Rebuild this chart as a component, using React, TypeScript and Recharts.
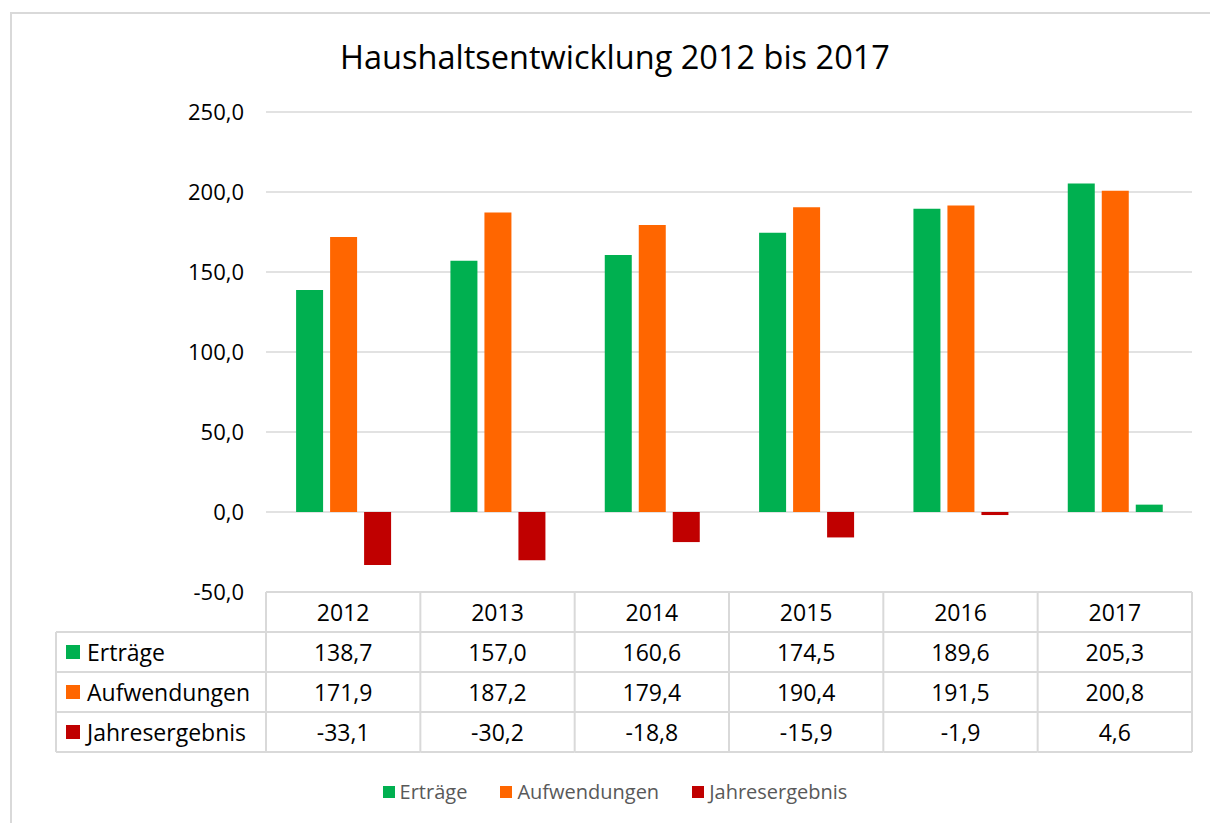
import React from 'react';
import { BarChart, Bar, XAxis, YAxis, CartesianGrid, Cell } from 'recharts';

/* ─── Data ─────────────────────────────────────────────────────────────────── */
const years = ['2012', '2013', '2014', '2015', '2016', '2017'];
const ertraege = [138.7, 157.0, 160.6, 174.5, 189.6, 205.3];
const aufwendungen = [171.9, 187.2, 179.4, 190.4, 191.5, 200.8];
const jahresergebnis = [-33.1, -30.2, -18.8, -15.9, -1.9, 4.6];
const yTicks = [-50, 0, 50, 100, 150, 200, 250];

const GREEN = '#00b050';
const ORANGE = '#ff6600';
const RED = '#c00000';
const LINE = '#d9d9d9';
const FONT = '"Open Sans", "Noto Sans", sans-serif';

const seriesInfo = [
    { key: 'ertraege', name: 'Erträge', color: GREEN, values: ertraege },
    { key: 'aufwendungen', name: 'Aufwendungen', color: ORANGE, values: aufwendungen },
    { key: 'jahresergebnis', name: 'Jahresergebnis', color: RED, values: jahresergebnis },
];

const data = years.map((year, i) => ({
    year,
    ertraege: ertraege[i],
    aufwendungen: aufwendungen[i],
    jahresergebnis: jahresergebnis[i],
}));

const fmt = (v: number) => v.toFixed(1).replace('.', ',');

/* ─── Layout ───────────────────────────────────────────────────────────────── */
const W = 1210;
const H = 823;
const PLOT_LEFT = 266;
const PLOT_RIGHT = 1192;
const PLOT_TOP = 112;
const PLOT_BOTTOM = 592;
const Y_AXIS_W = 60;
const X_AXIS_H = 180;
const BAND = (PLOT_RIGHT - PLOT_LEFT) / years.length;
const ROW_H = 40;
const LABEL_LEFT = 56;

/* ─── Data table drawn as the x-axis ticks ─────────────────────────────────── */
function TableTick(props: any) {
    const { x, y, payload, index } = props;
    const half = BAND / 2;
    const left = x - half;
    const right = x + half;
    const bottom = y + ROW_H * 4;
    const textStyle = { fontFamily: FONT, fontSize: 23, fill: '#000' };
    return (
        <g>
            {/* column borders */}
            {index === 0 && <line x1={left} y1={y} x2={left} y2={bottom} stroke={LINE} strokeWidth={2} />}
            <line x1={right} y1={y} x2={right} y2={bottom} stroke={LINE} strokeWidth={2} />
            {[0, 1, 2, 3, 4].map((r) => (
                <line key={r} x1={left} y1={y + r * ROW_H} x2={right} y2={y + r * ROW_H} stroke={LINE} strokeWidth={2} />
            ))}
            <text x={x} y={y + ROW_H / 2} textAnchor="middle" dominantBaseline="central" style={textStyle}>
                {payload.value}
            </text>
            {seriesInfo.map((s, r) => (
                <text
                    key={s.key}
                    x={x}
                    y={y + ROW_H * (r + 1) + ROW_H / 2}
                    textAnchor="middle"
                    dominantBaseline="central"
                    style={textStyle}
                >
                    {fmt(s.values[index])}
                </text>
            ))}
            {/* row labels on the left */}
            {index === 0 && (
                <g>
                    <line x1={LABEL_LEFT} y1={y + ROW_H} x2={LABEL_LEFT} y2={bottom} stroke={LINE} strokeWidth={2} />
                    {[1, 2, 3, 4].map((r) => (
                        <line key={r} x1={LABEL_LEFT} y1={y + r * ROW_H} x2={left} y2={y + r * ROW_H} stroke={LINE} strokeWidth={2} />
                    ))}
                    {seriesInfo.map((s, r) => (
                        <g key={s.key}>
                            <rect x={LABEL_LEFT + 10} y={y + ROW_H * (r + 1) + 13} width={14} height={14} fill={s.color} />
                            <text
                                x={LABEL_LEFT + 31}
                                y={y + ROW_H * (r + 1) + ROW_H / 2}
                                dominantBaseline="central"
                                style={textStyle}
                            >
                                {s.name}
                            </text>
                        </g>
                    ))}
                </g>
            )}
        </g>
    );
}

export default function App() {
    return (
        <div style={{ position: 'absolute', left: 0, top: 0, width: W, height: H, background: '#fff', overflow: 'hidden' }}>
            {/* outer chart frame */}
            <div style={{ position: 'absolute', left: 10, top: 12, width: W, height: H, border: `2px solid ${LINE}`, boxSizing: 'border-box' }} />
            <div
                style={{
                    position: 'absolute',
                    left: 0,
                    top: 34,
                    width: 1230,
                    textAlign: 'center',
                    fontFamily: FONT,
                    fontSize: 32.5,
                    color: '#000',
                }}
            >
                Haushaltsentwicklung 2012 bis 2017
            </div>
            <div style={{ position: 'absolute', left: 0, top: 0 }}>
                <BarChart
                    width={W}
                    height={H}
                    data={data}
                    margin={{
                        top: PLOT_TOP,
                        right: W - PLOT_RIGHT,
                        left: PLOT_LEFT - Y_AXIS_W,
                        bottom: H - PLOT_BOTTOM - X_AXIS_H,
                    }}
                    barCategoryGap="19.5%"
                    barGap={7}
                >
                    <CartesianGrid vertical={false} stroke={LINE} strokeWidth={1.5} />
                    <XAxis
                        dataKey="year"
                        axisLine={false}
                        tickLine={false}
                        tickSize={0}
                        tickMargin={0}
                        height={X_AXIS_H}
                        interval={0}
                        tick={<TableTick />}
                    />
                    <YAxis
                        width={Y_AXIS_W}
                        domain={[-50, 250]}
                        ticks={yTicks}
                        axisLine={false}
                        tickLine={false}
                        tickSize={0}
                        tickMargin={22}
                        tickFormatter={fmt}
                        tick={{ fontFamily: FONT, fontSize: 22, fill: '#000' }}
                    />
                    <Bar dataKey="ertraege" name="Erträge" fill={GREEN} isAnimationActive={false} />
                    <Bar dataKey="aufwendungen" name="Aufwendungen" fill={ORANGE} isAnimationActive={false} />
                    <Bar dataKey="jahresergebnis" name="Jahresergebnis" fill={RED} isAnimationActive={false}>
                        {jahresergebnis.map((v, i) => (
                            <Cell key={`cell-${i}`} fill={v >= 0 ? GREEN : RED} />
                        ))}
                    </Bar>
                </BarChart>
            </div>
            {/* legend */}
            <div
                style={{
                    position: 'absolute',
                    left: 0,
                    top: 778,
                    width: 1230,
                    display: 'flex',
                    justifyContent: 'center',
                    gap: 33,
                    fontFamily: FONT,
                    fontSize: 20,
                    color: '#595959',
                }}
            >
                {seriesInfo.map((s) => (
                    <div key={s.key} style={{ display: 'flex', alignItems: 'center', gap: 5 }}>
                        <span style={{ display: 'inline-block', width: 12, height: 12, background: s.color }} />
                        <span>{s.name}</span>
                    </div>
                ))}
            </div>
        </div>
    );
}
